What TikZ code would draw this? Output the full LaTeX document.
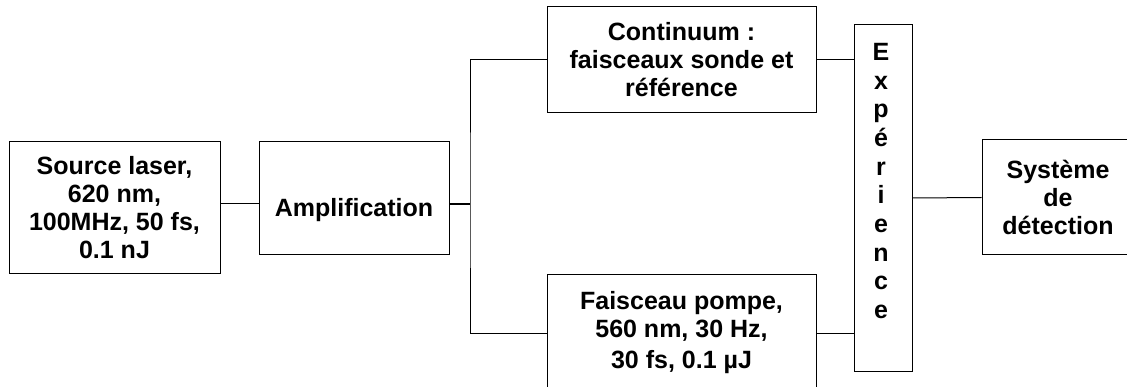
\documentclass[tikz,border=0pt]{standalone}
\usepackage{fontspec}
\setmainfont{Liberation Sans}
\begin{document}
\begin{tikzpicture}[x=1pt,y=-1pt,
  box/.style={draw=black,line width=1pt,rectangle,inner sep=0pt,align=center,
    font=\fontsize{25}{28}\selectfont\bfseries},
  wire/.style={draw=black,line width=1pt},
  thickwire/.style={draw=black,line width=2.6pt}]
\useasboundingbox (0,0) rectangle (1127,387);
\clip (0,0) rectangle (1127,387);
\node[box,minimum width=211pt,minimum height=132pt] (source) at (114.5,208)
  {Source laser,\\620 nm,\\100MHz, 50 fs,\\0.1 nJ};
\node[box,minimum width=190pt,minimum height=113pt] (amp) at (354,198.5)
  {\raisebox{-18pt}[0pt][0pt]{Amplification}};
\node[box,minimum width=269pt,minimum height=106pt] (cont) at (681.5,60)
  {Continuum :\\faisceaux sonde et\\référence};
\node[box,minimum width=269pt,minimum height=116pt] (pump) at (681.5,333)
  {Faisceau pompe,\\560 nm, 30 Hz,\\[3pt] 30 fs, 0.1 µJ};
\node[box,minimum width=58pt,minimum height=346pt] (exp) at (883,198) {};
\node[align=center,inner sep=0pt,anchor=north,
  font=\fontsize{25}{28.7}\selectfont\bfseries] (explabel) at (881,43)
  {E\\x\\p\\é\\r\\i\\e\\n\\c\\e};
\node[box,minimum width=152pt,minimum height=115pt] (sys) at (1058,197.5)
  {Système\\de\\détection};
\coordinate (split) at (470,204);
\draw[wire] (source.east |- split) -- (amp.west |- split);
\draw[thickwire] (amp.east |- split) -- (split);
\draw[wire] (cont.west) -| (split) |- (pump.west);
\draw[wire] (cont.east) -- (exp.west |- cont.east);
\draw[wire] (pump.east) -- (exp.west |- pump.east);
\draw[wire] (exp.east) -- (sys.west);
\end{tikzpicture}
\end{document}
